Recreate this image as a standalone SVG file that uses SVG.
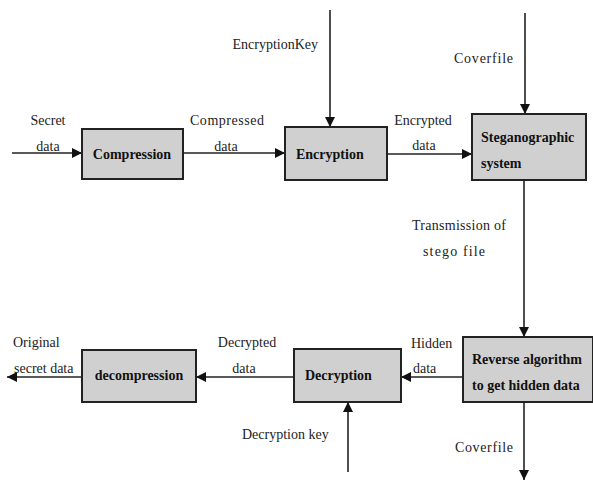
<svg xmlns="http://www.w3.org/2000/svg" width="593" height="481" viewBox="0 0 593 481">
<style>
.box{fill:#d0d0d0;stroke:#222;stroke-width:2}
text{font-family:'Liberation Serif','DejaVu Serif',serif}
.bt{font-weight:bold;font-size:14px;fill:#111}
.lt{font-size:14px;fill:#222}
.c{fill:none;stroke:#222;stroke-width:1.6;marker-end:url(#ah)}
</style>
<defs>
<marker id="ah" viewBox="0 0 10 10" refX="10" refY="5" markerWidth="10" markerHeight="10" markerUnits="userSpaceOnUse" orient="auto">
<path d="M0,0 L10,5 L0,10 z" fill="#111"/>
</marker>
</defs>
<rect width="593" height="481" fill="#fff"/>
<g id="connectors">
<path class="c" d="M12,153 H82"/>
<path class="c" d="M183,153 H285"/>
<path class="c" d="M330,10 V127"/>
<path class="c" d="M387,154 H472"/>
<path class="c" d="M525,13 V114"/>
<path class="c" d="M524,180 V337"/>
<path class="c" d="M463,377 H401"/>
<path class="c" d="M294,377 H196"/>
<path class="c" d="M82,377 H7"/>
<path class="c" d="M348,472 V402"/>
<path class="c" d="M524,402 V480"/>
</g>
<g id="labels">
<text class="lt" x="48" y="125" text-anchor="middle">Secret</text>
<text class="lt" x="48" y="151" text-anchor="middle">data</text>
<text class="lt" x="227" y="125" text-anchor="middle" textLength="74" lengthAdjust="spacing">Compressed</text>
<text class="lt" x="226" y="151" text-anchor="middle">data</text>
<text class="lt" x="318" y="49" text-anchor="end">EncryptionKey</text>
<text class="lt" x="454" y="63" textLength="59" lengthAdjust="spacing">Coverfile</text>
<text class="lt" x="423" y="125" text-anchor="middle">Encrypted</text>
<text class="lt" x="424" y="150" text-anchor="middle">data</text>
<text class="lt" x="412" y="230" textLength="94" lengthAdjust="spacing">Transmission of</text>
<text class="lt" x="423" y="256" textLength="62" lengthAdjust="spacing">stego file</text>
<text class="lt" x="411" y="348">Hidden</text>
<text class="lt" x="413" y="373">data</text>
<text class="lt" x="455" y="452" textLength="58" lengthAdjust="spacing">Coverfile</text>
<text class="lt" x="247" y="347" text-anchor="middle">Decrypted</text>
<text class="lt" x="244" y="373" text-anchor="middle">data</text>
<text class="lt" x="13" y="347">Original</text>
<text class="lt" x="14" y="373">secret data</text>
<text class="lt" x="242" y="439">Decryption key</text>
</g>
<g id="compression">
<rect class="box" x="82" y="129" width="101" height="50"/>
<text class="bt" x="132" y="159" text-anchor="middle">Compression</text>
</g>
<g id="encryption">
<rect class="box" x="285" y="127" width="102" height="53"/>
<text class="bt" x="296" y="159">Encryption</text>
</g>
<g id="steganographic">
<rect class="box" x="472" y="114" width="114" height="66"/>
<text class="bt" x="481" y="142">Steganographic</text>
<text class="bt" x="481" y="168">system</text>
</g>
<g id="reverse">
<rect class="box" x="463" y="337" width="130" height="65"/>
<text class="bt" x="472" y="364">Reverse algorithm</text>
<text class="bt" x="472" y="390">to get hidden data</text>
</g>
<g id="decryption">
<rect class="box" x="294" y="349" width="107" height="53"/>
<text class="bt" x="305" y="380">Decryption</text>
</g>
<g id="decompression">
<rect class="box" x="82" y="350" width="114" height="52"/>
<text class="bt" x="139" y="380" text-anchor="middle">decompression</text>
</g>
</svg>
